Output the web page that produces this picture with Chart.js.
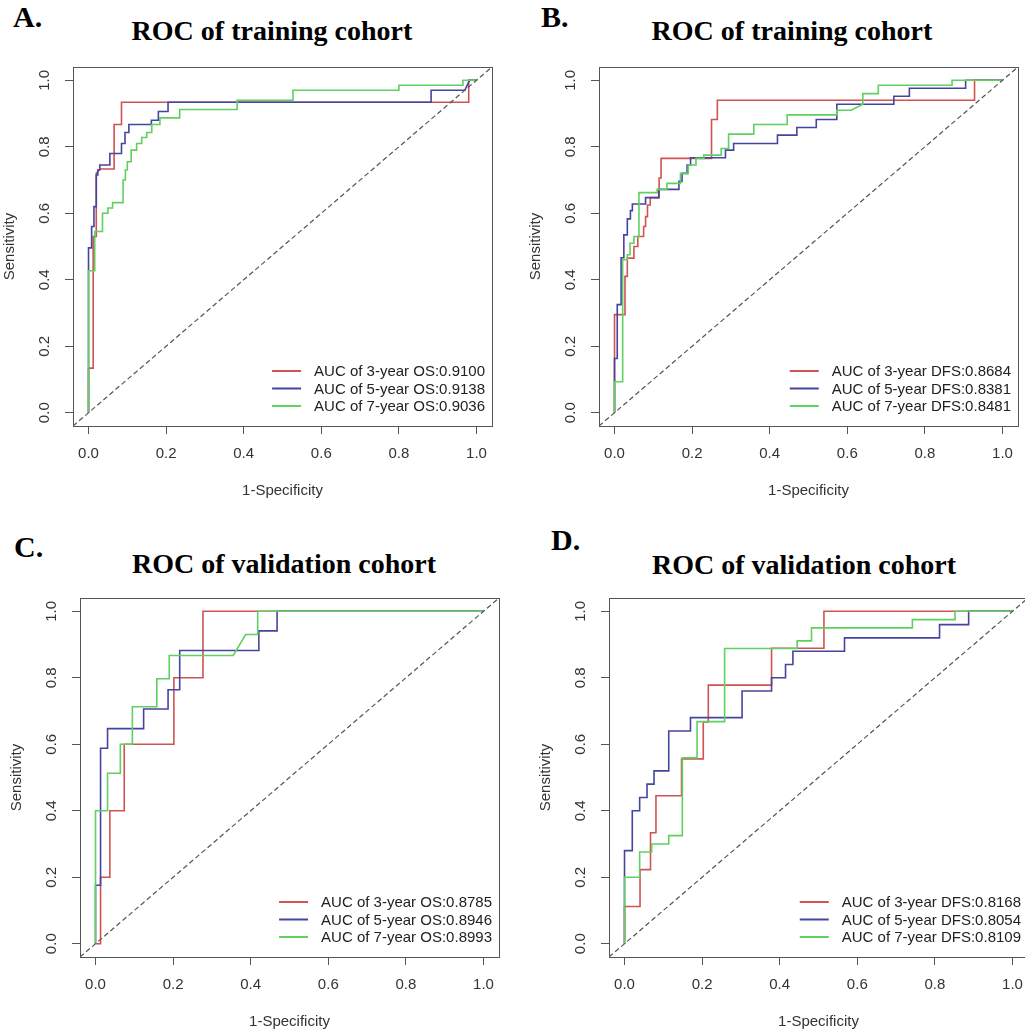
<!DOCTYPE html>
<html lang="en">
  <head>
    <meta charset="UTF-8" />
    <title>ROC of training and validation cohorts</title>
    <script src="https://cdn.jsdelivr.net/npm/chart.js@4.4.1/dist/chart.umd.min.js"></script>
    <style>
      html,
      body {
        margin: 0;
        padding: 0;
        background: #fff;
      }
      body {
        width: 1025px;
        height: 1032px;
        position: relative;
        overflow: hidden;
        font-family: "Liberation Sans", Arial, sans-serif;
      }
      .panel {
        position: absolute;
        width: 502px;
        height: 458px;
      }
      #panelA { left: 0; top: 48px; }
      #panelB { left: 526px; top: 48px; }
      #panelC { left: 7px; top: 579px; }
      #panelD { left: 536px; top: 579px; }

      .title {
        position: absolute;
        width: 500px;
        text-align: center;
        font: bold 28px/28px "Liberation Serif", "Times New Roman", serif;
        color: #000;
        white-space: nowrap;
      }
      .letter {
        position: absolute;
        font: bold 30px/30px "Liberation Serif", "Times New Roman", serif;
        color: #000;
      }
    </style>
  </head>
  <body>
    <div class="letter" style="left: 13px; top: 2px">A.</div>
    <div class="letter" style="left: 541px; top: 2px">B.</div>
    <div class="letter" style="left: 14px; top: 532px">C.</div>
    <div class="letter" style="left: 551px; top: 525px">D.</div>

    <div class="title" style="left: 22px; top: 17px">ROC of training cohort</div>
    <div class="title" style="left: 542px; top: 17px">ROC of training cohort</div>
    <div class="title" style="left: 34px; top: 550px">ROC of validation cohort</div>
    <div class="title" style="left: 554px; top: 551px">ROC of validation cohort</div>

    <div class="panel" id="panelA"><canvas id="chartA"></canvas></div>
    <div class="panel" id="panelB"><canvas id="chartB"></canvas></div>
    <div class="panel" id="panelC"><canvas id="chartC"></canvas></div>
    <div class="panel" id="panelD"><canvas id="chartD"></canvas></div>

    <script>
      // axes (R style: 4% extension around 0..1)
      const tickValues = [0, 0.2, 0.4, 0.6, 0.8, 1.0];
      const tickLabels = ["0.0", "0.2", "0.4", "0.6", "0.8", "1.0"];
      const axisRange = [-0.04, 1.04];
      const refLine = [[-0.04, -0.04], [1.04, 1.04]];
      const seriesColors = ["#cf5353", "#45459f", "#60d060"];

      // A. training cohort, OS  [1-specificity, sensitivity]
      const trainOsLabels = ["AUC of 3-year OS:0.9100", "AUC of 5-year OS:0.9138", "AUC of 7-year OS:0.9036"];
      const trainOs3 = [[0,0],[0,0.134],[0.012,0.134],[0.012,0.53],[0.02,0.53],[0.02,0.72],[0.029,0.733],[0.066,0.733],[0.066,0.867],[0.085,0.867],[0.085,0.934],[0.98,0.934],[0.98,1],[1,1]];
      const trainOs5 = [[0,0],[0,0.496],[0.008,0.496],[0.008,0.56],[0.014,0.56],[0.014,0.62],[0.02,0.62],[0.02,0.715],[0.024,0.715],[0.024,0.73],[0.029,0.73],[0.029,0.745],[0.055,0.745],[0.055,0.78],[0.085,0.78],[0.085,0.81],[0.094,0.81],[0.094,0.843],[0.104,0.843],[0.104,0.867],[0.162,0.867],[0.162,0.88],[0.18,0.88],[0.18,0.906],[0.205,0.906],[0.205,0.934],[0.883,0.934],[0.883,0.97],[0.97,0.97],[0.982,1],[1,1]];
      const trainOs7 = [[0,0],[0,0.427],[0.016,0.427],[0.016,0.545],[0.036,0.545],[0.036,0.6],[0.05,0.6],[0.05,0.616],[0.062,0.616],[0.062,0.632],[0.089,0.632],[0.089,0.7],[0.095,0.7],[0.095,0.73],[0.1,0.73],[0.1,0.755],[0.11,0.755],[0.11,0.79],[0.124,0.79],[0.124,0.81],[0.137,0.81],[0.137,0.828],[0.15,0.828],[0.15,0.843],[0.163,0.843],[0.163,0.867],[0.184,0.867],[0.184,0.887],[0.235,0.887],[0.235,0.912],[0.383,0.912],[0.383,0.94],[0.527,0.94],[0.527,0.97],[0.8,0.97],[0.8,0.985],[0.965,0.985],[0.965,1],[1,1]];

      // B. training cohort, DFS
      const trainDfsLabels = ["AUC of 3-year DFS:0.8684", "AUC of 5-year DFS:0.8381", "AUC of 7-year DFS:0.8481"];
      const trainDfs3 = [[0,0],[0,0.295],[0.027,0.295],[0.027,0.41],[0.033,0.41],[0.033,0.465],[0.05,0.465],[0.05,0.5],[0.06,0.5],[0.06,0.53],[0.075,0.53],[0.075,0.56],[0.08,0.56],[0.08,0.59],[0.085,0.59],[0.085,0.625],[0.092,0.625],[0.092,0.647],[0.115,0.647],[0.115,0.706],[0.12,0.706],[0.12,0.765],[0.25,0.765],[0.25,0.882],[0.265,0.882],[0.265,0.94],[0.928,0.94],[0.928,1],[1,1]];
      const trainDfs5 = [[0,0],[0,0.163],[0.007,0.163],[0.007,0.325],[0.017,0.325],[0.017,0.466],[0.024,0.466],[0.024,0.535],[0.033,0.535],[0.033,0.583],[0.041,0.583],[0.041,0.608],[0.046,0.608],[0.046,0.628],[0.08,0.628],[0.08,0.647],[0.114,0.647],[0.114,0.672],[0.166,0.672],[0.166,0.696],[0.174,0.696],[0.174,0.72],[0.187,0.72],[0.187,0.745],[0.196,0.745],[0.196,0.767],[0.286,0.767],[0.286,0.79],[0.307,0.79],[0.307,0.81],[0.42,0.81],[0.42,0.835],[0.47,0.835],[0.47,0.858],[0.52,0.858],[0.52,0.882],[0.573,0.882],[0.573,0.928],[0.72,0.928],[0.72,0.952],[0.76,0.952],[0.76,0.976],[0.905,0.976],[0.905,1],[1,1]];
      const trainDfs7 = [[0,0],[0,0.093],[0.021,0.093],[0.021,0.46],[0.033,0.46],[0.033,0.475],[0.04,0.475],[0.04,0.51],[0.05,0.51],[0.05,0.53],[0.063,0.53],[0.063,0.662],[0.11,0.662],[0.11,0.672],[0.135,0.672],[0.135,0.69],[0.17,0.69],[0.17,0.72],[0.19,0.72],[0.19,0.745],[0.21,0.745],[0.21,0.765],[0.23,0.765],[0.23,0.775],[0.275,0.775],[0.275,0.795],[0.294,0.795],[0.294,0.838],[0.359,0.838],[0.359,0.867],[0.445,0.867],[0.445,0.896],[0.573,0.896],[0.573,0.91],[0.61,0.91],[0.64,0.928],[0.64,0.96],[0.68,0.96],[0.68,0.985],[0.87,0.985],[0.87,1],[1,1]];

      // C. validation cohort, OS
      const validOsLabels = ["AUC of 3-year OS:0.8785", "AUC of 5-year OS:0.8946", "AUC of 7-year OS:0.8993"];
      const validOs3 = [[0,0],[0.013,0],[0.013,0.2],[0.037,0.2],[0.037,0.4],[0.074,0.4],[0.074,0.6],[0.202,0.6],[0.202,0.8],[0.277,0.8],[0.277,1],[1,1]];
      const validOs5 = [[0,0],[0,0.176],[0.013,0.176],[0.013,0.588],[0.031,0.588],[0.031,0.647],[0.124,0.647],[0.124,0.706],[0.187,0.706],[0.187,0.764],[0.217,0.764],[0.217,0.882],[0.421,0.882],[0.421,0.941],[0.468,0.941],[0.468,1],[1,1]];
      const validOs7 = [[0,0],[0,0.4],[0.031,0.4],[0.031,0.513],[0.064,0.513],[0.064,0.6],[0.095,0.6],[0.095,0.713],[0.158,0.713],[0.158,0.797],[0.19,0.797],[0.19,0.867],[0.355,0.867],[0.387,0.93],[0.418,0.93],[0.418,1],[1,1]];

      // D. validation cohort, DFS
      const validDfsLabels = ["AUC of 3-year DFS:0.8168", "AUC of 5-year DFS:0.8054", "AUC of 7-year DFS:0.8109"];
      const validDfs3 = [[0,0],[0,0.112],[0.04,0.112],[0.04,0.223],[0.067,0.223],[0.067,0.334],[0.081,0.334],[0.081,0.445],[0.147,0.445],[0.147,0.556],[0.203,0.556],[0.203,0.667],[0.216,0.667],[0.216,0.778],[0.379,0.778],[0.379,0.889],[0.514,0.889],[0.514,1],[1,1]];
      const validDfs5 = [[0,0],[0,0.28],[0.02,0.28],[0.02,0.4],[0.039,0.4],[0.039,0.44],[0.058,0.44],[0.058,0.48],[0.076,0.48],[0.076,0.52],[0.114,0.52],[0.114,0.64],[0.17,0.64],[0.17,0.68],[0.303,0.68],[0.303,0.76],[0.379,0.76],[0.379,0.8],[0.415,0.8],[0.415,0.84],[0.434,0.84],[0.434,0.88],[0.567,0.88],[0.567,0.92],[0.812,0.92],[0.812,0.96],[0.887,0.96],[0.887,1],[1,1]];
      const validDfs7 = [[0,0],[0,0.2],[0.039,0.2],[0.039,0.276],[0.07,0.276],[0.07,0.3],[0.114,0.3],[0.114,0.325],[0.149,0.325],[0.149,0.559],[0.187,0.559],[0.187,0.668],[0.258,0.668],[0.258,0.888],[0.445,0.888],[0.445,0.911],[0.482,0.911],[0.482,0.95],[0.742,0.95],[0.742,0.975],[0.852,0.975],[0.852,1],[1,1]];

      const sansFont = "'Liberation Sans', Arial, Helvetica, sans-serif";
      const axisFont = { family: sansFont, size: 15 };
      const textColor = "#333";
      const frameColor = "#555";

      const toXY = (pts) => pts.map(([x, y]) => ({ x: x, y: y }));

      // box around the plot region + legend at bottom right (like R's legend("bottomright"))
      function rFrame(labels) {
        return {
          id: "rFrame",
          afterDraw(chart) {
            const { ctx, chartArea } = chart;
            ctx.save();
            ctx.strokeStyle = frameColor;
            ctx.lineWidth = 1;
            ctx.strokeRect(
              Math.round(chartArea.left) + 0.5,
              Math.round(chartArea.top) + 0.5,
              Math.round(chartArea.right - chartArea.left),
              Math.round(chartArea.bottom - chartArea.top)
            );

            ctx.font = "15px " + sansFont;
            ctx.textBaseline = "middle";
            ctx.textAlign = "left";
            const maxW = Math.max(...labels.map((t) => ctx.measureText(t).width));
            const textX = chartArea.right - 7 - maxW;
            labels.forEach((t, i) => {
              const y = chartArea.bottom - 20 - (labels.length - 1 - i) * 17.5;
              ctx.strokeStyle = seriesColors[i];
              ctx.lineWidth = 2;
              ctx.beginPath();
              ctx.moveTo(textX - 42, y);
              ctx.lineTo(textX - 13, y);
              ctx.stroke();
              ctx.fillStyle = "#222";
              ctx.fillText(t, textX, y + 1);
            });
            ctx.restore();
          },
        };
      }

      function axis(titleText, isY) {
        return {
          type: "linear",
          min: axisRange[0],
          max: axisRange[1],
          afterBuildTicks: (scale) => {
            scale.ticks = tickValues.map((v) => ({ value: v }));
          },
          afterFit: (scale) => {
            if (isY) scale.width = 73;
            else scale.height = 80;
          },
          ticks: {
            autoSkip: false,
            callback: (v, i) => tickLabels[i],
            font: axisFont,
            color: textColor,
            padding: isY ? 10 : 11,
            minRotation: isY ? 90 : 0,
            maxRotation: isY ? 90 : 0,
            crossAlign: isY ? "center" : "near",
          },
          grid: {
            drawOnChartArea: false,
            drawTicks: true,
            tickLength: 8,
            color: frameColor,
          },
          border: { display: false },
          title: {
            display: true,
            text: titleText,
            font: axisFont,
            color: textColor,
            padding: isY ? { top: 1, bottom: 0 } : { top: 0, bottom: 6 },
          },
        };
      }

      function makeRoc(canvasId, curves, labels) {
        const datasets = curves.map((pts, i) => ({
          label: labels[i],
          data: toXY(pts),
          borderColor: seriesColors[i],
          borderWidth: 1.6,
          pointRadius: 0,
          fill: false,
          tension: 0,
          order: curves.length - i,
        }));
        datasets.push({
          label: "reference",
          data: toXY(refLine),
          borderColor: "#555",
          borderWidth: 1.2,
          borderDash: [5, 3],
          pointRadius: 0,
          fill: false,
          order: 0,
        });

        new Chart(document.getElementById(canvasId), {
          type: "line",
          data: { datasets: datasets },
          options: {
            responsive: true,
            maintainAspectRatio: false,
            animation: false,
            events: [],
            layout: { padding: { left: 0, top: 10, right: 10, bottom: 0 } },
            plugins: {
              legend: { display: false },
              tooltip: { enabled: false },
            },
            scales: {
              x: axis("1-Specificity", false),
              y: axis("Sensitivity", true),
            },
          },
          plugins: [rFrame(labels)],
        });
      }

      makeRoc("chartA", [trainOs3, trainOs5, trainOs7], trainOsLabels);
      makeRoc("chartB", [trainDfs3, trainDfs5, trainDfs7], trainDfsLabels);
      makeRoc("chartC", [validOs3, validOs5, validOs7], validOsLabels);
      makeRoc("chartD", [validDfs3, validDfs5, validDfs7], validDfsLabels);
    </script>
  </body>
</html>
